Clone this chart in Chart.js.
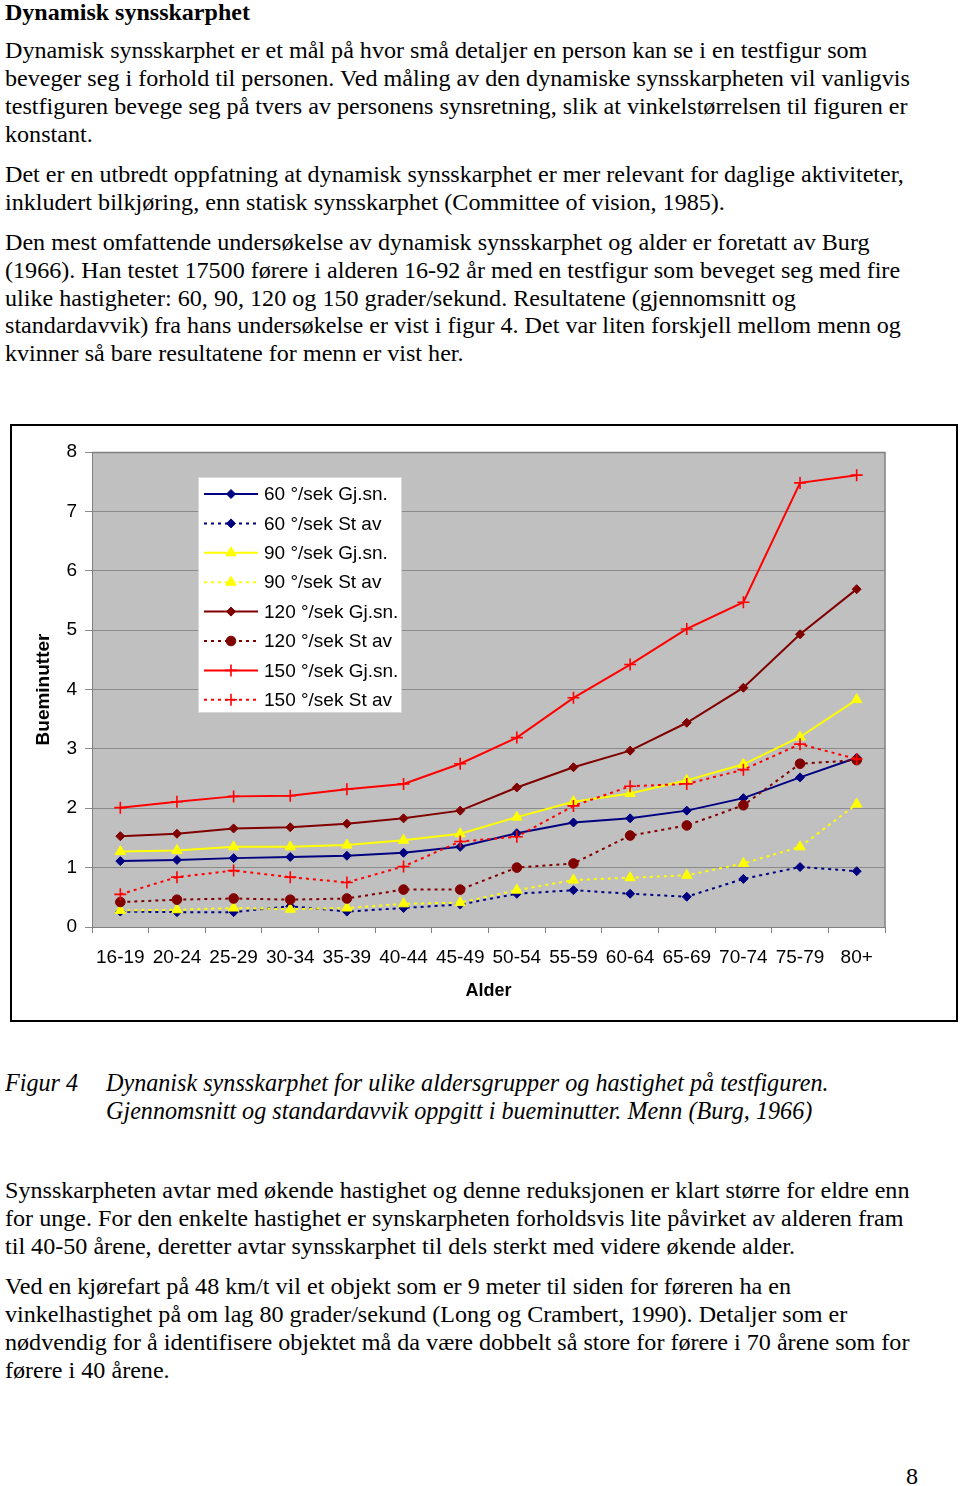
<!DOCTYPE html>
<html><head><meta charset="utf-8">
<script src="https://cdn.jsdelivr.net/npm/chart.js@4.4.1/dist/chart.umd.min.js"></script>
<style>
html,body{margin:0;padding:0;background:#fff;}
body{width:960px;height:1486px;position:relative;overflow:hidden;font-family:"Liberation Serif","Times New Roman",serif;color:#000;}
.l{position:absolute;left:5px;white-space:nowrap;line-height:28px;height:28px;}
.b{font-weight:bold;}
.i{font-style:italic;}
#box{position:absolute;left:10px;top:424px;width:948px;height:598px;border:2px solid #000;box-sizing:border-box;background:#fff;}
#box canvas{display:block;}
</style></head><body>
<div class="l b hd" style="top:-2px">Dynamisk synsskarphet</div>
<div class="l t" style="top:36px">Dynamisk synsskarphet er et mål på hvor små detaljer en person kan se i en testfigur som</div>
<div class="l t" style="top:64px">beveger seg i forhold til personen. Ved måling av den dynamiske synsskarpheten vil vanligvis</div>
<div class="l t" style="top:92px">testfiguren bevege seg på tvers av personens synsretning, slik at vinkelstørrelsen til figuren er</div>
<div class="l t" style="top:120px">konstant.</div>
<div class="l t" style="top:160px">Det er en utbredt oppfatning at dynamisk synsskarphet er mer relevant for daglige aktiviteter,</div>
<div class="l t" style="top:188px">inkludert bilkjøring, enn statisk synsskarphet (Committee of vision, 1985).</div>
<div class="l t" style="top:228px">Den mest omfattende undersøkelse av dynamisk synsskarphet og alder er foretatt av Burg</div>
<div class="l t" style="top:256px">(1966). Han testet 17500 førere i alderen 16-92 år med en testfigur som beveget seg med fire</div>
<div class="l t" style="top:284px">ulike hastigheter: 60, 90, 120 og 150 grader/sekund. Resultatene (gjennomsnitt og</div>
<div class="l t" style="top:311px">standardavvik) fra hans undersøkelse er vist i figur 4. Det var liten forskjell mellom menn og</div>
<div class="l t" style="top:339px">kvinner så bare resultatene for menn er vist her.</div>

<div id="box"><canvas id="c" width="944" height="594"></canvas></div>

<div class="l i c" style="top:1069px">Figur 4</div>
<div class="l i c" style="top:1069px;left:106px">Dynanisk synsskarphet for ulike aldersgrupper og hastighet på testfiguren.</div>
<div class="l i c" style="top:1097px;left:106px">Gjennomsnitt og standardavvik oppgitt i bueminutter. Menn (Burg, 1966)</div>

<div class="l t" style="top:1176px">Synsskarpheten avtar med økende hastighet og denne reduksjonen er klart større for eldre enn</div>
<div class="l t" style="top:1204px">for unge. For den enkelte hastighet er synskarpheten forholdsvis lite påvirket av alderen fram</div>
<div class="l t" style="top:1232px">til 40-50 årene, deretter avtar synsskarphet til dels sterkt med videre økende alder.</div>
<div class="l t" style="top:1272px">Ved en kjørefart på 48 km/t vil et objekt som er 9 meter til siden for føreren ha en</div>
<div class="l t" style="top:1300px">vinkelhastighet på om lag 80 grader/sekund (Long og Crambert, 1990). Detaljer som er</div>
<div class="l t" style="top:1328px">nødvendig for å identifisere objektet må da være dobbelt så store for førere i 70 årene som for</div>
<div class="l t" style="top:1356px">førere i 40 årene.</div>
<div class="l t" style="top:1462px;left:906px">8</div>

<script>
// ---- data ----
const categories = ['16-19','20-24','25-29','30-34','35-39','40-44','45-49','50-54','55-59','60-64','65-69','70-74','75-79','80+'];
const gj60  = [1.11,1.13,1.16,1.18,1.20,1.25,1.35,1.58,1.76,1.83,1.96,2.17,2.52,2.85];
const sd60  = [0.26,0.25,0.25,0.35,0.26,0.32,0.38,0.56,0.62,0.56,0.51,0.81,1.01,0.94];
const gj90  = [1.27,1.29,1.35,1.35,1.38,1.46,1.57,1.85,2.11,2.25,2.47,2.74,3.20,3.83];
const sd90  = [0.28,0.29,0.32,0.30,0.32,0.39,0.41,0.62,0.79,0.83,0.87,1.07,1.35,2.07];
const gj120 = [1.53,1.57,1.66,1.68,1.74,1.83,1.96,2.35,2.69,2.97,3.44,4.03,4.93,5.69];
const sd120 = [0.42,0.46,0.48,0.46,0.48,0.63,0.63,1.00,1.07,1.54,1.71,2.05,2.75,2.81];
const gj150 = [2.01,2.11,2.20,2.21,2.32,2.41,2.75,3.19,3.86,4.42,5.02,5.47,7.48,7.61];
const sd150 = [0.55,0.84,0.95,0.84,0.75,1.02,1.44,1.52,2.04,2.37,2.41,2.65,3.08,2.83];
const seriesLabels = ['60 °/sek Gj.sn.','60 °/sek St av','90 °/sek Gj.sn.','90 °/sek St av','120 °/sek Gj.sn.','120 °/sek St av','150 °/sek Gj.sn.','150 °/sek St av'];
const yTitle = 'Bueminutter';
const xTitle = 'Alder';

// ---- fit body text sizes ----
(function(){
  const m = document.createElement('canvas').getContext('2d');
  function size(font, txt, target){ m.font = font.replace('SZ','100px'); return 100*target/m.measureText(txt).width; }
  const fam = '"Liberation Serif"';
  const t = size('SZ '+fam, 'Dynamisk synsskarphet er et mål på hvor små detaljer en person kan se i en testfigur som', 863);
  const c = size('italic SZ '+fam, 'Dynanisk synsskarphet for ulike aldersgrupper og hastighet på testfiguren.', 723);
  const h = size('bold SZ '+fam, 'Dynamisk synsskarphet', 245);
  document.querySelectorAll('.t').forEach(e=>e.style.fontSize=t+'px');
  document.querySelectorAll('.c').forEach(e=>e.style.fontSize=c+'px');
  document.querySelectorAll('.hd').forEach(e=>e.style.fontSize=h+'px');
})();

// ---- chart ----
const SANS = '"Liberation Sans", Arial, sans-serif';
const NAVY='#000080', YEL='#ffff00', DRED='#800000', RED='#ff0000';
const DASH=[3,4];
function mk(i, data, color, style, radius, dashed){
  return {
    label: seriesLabels[i], data,
    borderColor: color, backgroundColor: color,
    borderWidth: 2, borderDash: dashed ? DASH : [],
    pointStyle: style, pointRadius: radius, pointHoverRadius: radius,
    pointBackgroundColor: color, pointBorderColor: color,
    pointBorderWidth: style==='cross' ? 1.6 : 1,
    tension: 0, fill: false, order: 8 - i
  };
}
const datasets = [
  mk(0, gj60, NAVY, 'rectRot', 4.5, false),
  mk(1, sd60, NAVY, 'rectRot', 4.5, true),
  mk(2, gj90, YEL, 'triangle', 6, false),
  mk(3, sd90, YEL, 'triangle', 6, true),
  mk(4, gj120, DRED, 'rectRot', 4.5, false),
  mk(5, sd120, DRED, 'circle', 4.8, true),
  mk(6, gj150, RED, 'cross', 6, false),
  mk(7, sd150, RED, 'cross', 6, true)
];

const plotBg = {
  id:'plotBg',
  beforeDraw(chart){
    const {ctx, chartArea:a} = chart;
    ctx.save(); ctx.fillStyle='#c0c0c0';
    ctx.fillRect(a.left, a.top, a.right-a.left, a.bottom-a.top);
    ctx.restore();
  },
  beforeDatasetsDraw(chart){
    const {ctx, chartArea:a} = chart;
    ctx.save(); ctx.strokeStyle='#808080'; ctx.lineWidth=1.5;
    ctx.beginPath(); ctx.moveTo(a.left, a.top+0.5); ctx.lineTo(a.right, a.top+0.5);
    ctx.lineTo(a.right, a.bottom); ctx.stroke(); ctx.restore();
  }
};

const legendIn = {
  id:'legendIn',
  afterDatasetsDraw(chart){
    const ctx = chart.ctx;
    const bx=186, by=51, bw=204, bh=236;
    ctx.save();
    ctx.fillStyle='#fff'; ctx.fillRect(bx,by,bw,bh);
    ctx.strokeStyle='#d8d8d8'; ctx.lineWidth=1; ctx.strokeRect(bx+0.5,by+0.5,bw-1,bh-1);
    chart.data.datasets.forEach((d,i)=>{
      const y = by + 17 + i*29.4;
      ctx.save();
      ctx.strokeStyle=d.borderColor; ctx.lineWidth=d.borderWidth;
      ctx.setLineDash(d.borderDash||[]);
      ctx.beginPath(); ctx.moveTo(bx+6,y); ctx.lineTo(bx+60,y); ctx.stroke();
      ctx.setLineDash([]);
      ctx.fillStyle=d.pointBackgroundColor; ctx.strokeStyle=d.pointBorderColor; ctx.lineWidth=d.pointBorderWidth;
      if (Chart.helpers && Chart.helpers.drawPoint) {
        Chart.helpers.drawPoint(ctx, {pointStyle:d.pointStyle, radius:d.pointRadius, rotation:0, borderWidth:d.pointBorderWidth}, bx+33, y);
      }
      ctx.restore();
      ctx.fillStyle='#000'; ctx.font='19px '+SANS; ctx.textBaseline='middle'; ctx.textAlign='left';
      ctx.fillText(d.label, bx+66, y+1);
    });
    ctx.restore();
  }
};

new Chart(document.getElementById('c'), {
  type:'line',
  data:{ labels: categories, datasets },
  options:{
    responsive:false, animation:false, devicePixelRatio:1,
    layout:{ padding:{ left:20, right:71, top:26, bottom:0 } },
    plugins:{ legend:{display:false}, tooltip:{enabled:false} },
    scales:{
      x:{
        offset:true,
        ticks:{ autoSkip:false, maxRotation:0, minRotation:0, padding:13, color:'#000', font:{family:SANS, size:19} },
        grid:{ offset:true, drawOnChartArea:false, drawTicks:true, tickLength:6, color:'#808080' },
        border:{ color:'#808080', width:1 },
        title:{ display:true, text:xTitle, color:'#000', font:{family:SANS, size:18, weight:'bold'}, padding:{top:0,bottom:18} },
        afterFit(s){ s.height = 93; }
      },
      y:{
        min:0, max:8,
        ticks:{ stepSize:1, padding:8, color:'#000', font:{family:SANS, size:19} },
        grid:{ color:'#8a8a8a', lineWidth:1, tickLength:7, drawTicks:true },
        border:{ color:'#808080', width:1 },
        title:{ display:true, text:yTitle, color:'#000', font:{family:SANS, size:19, weight:'bold'}, padding:{top:0,bottom:0} },
        afterFit(s){ s.width = 60; }
      }
    }
  },
  plugins:[plotBg, legendIn]
});
</script>
</body></html>
